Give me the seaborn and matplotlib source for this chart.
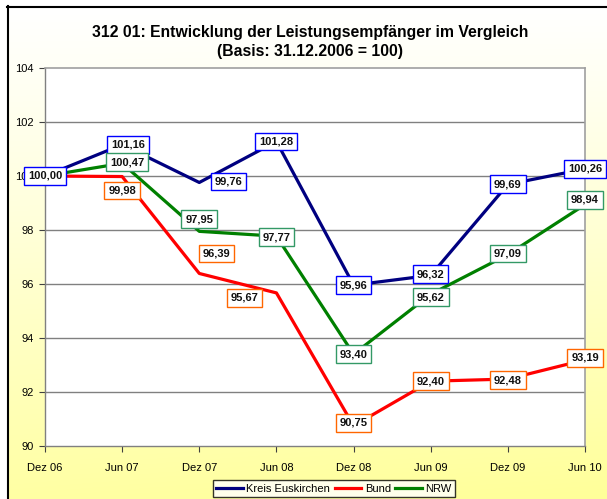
import numpy as np
import pandas as pd
import matplotlib
matplotlib.use("Agg")
import matplotlib.pyplot as plt
import seaborn as sns

# ---------------- data ----------------
categories = ["Dez 06", "Jun 07", "Dez 07", "Jun 08", "Dez 08", "Jun 09", "Dez 09", "Jun 10"]
kreis = [100.00, 101.16, 99.76, 101.28, 95.96, 96.32, 99.69, 100.26]
bund = [100.00, 99.98, 96.39, 95.67, 90.75, 92.40, 92.48, 93.19]
nrw = [100.00, 100.47, 97.95, 97.77, 93.40, 95.62, 97.09, 98.94]
series_names = ["Kreis Euskirchen", "Bund", "NRW"]
y_ticks = [90, 92, 94, 96, 98, 100, 102, 104]
title = "312 01: Entwicklung der Leistungsempfänger im Vergleich\n(Basis: 31.12.2006 = 100)"

# ---------------- styles ----------------
line_colors = {"Kreis Euskirchen": "#000080", "Bund": "#FF0000", "NRW": "#008000"}
box_colors = {"Kreis Euskirchen": "#0000FF", "Bund": "#FF6600", "NRW": "#339966"}
# label offsets in pixels (dx right, dy down) relative to the point; None = no label
label_offsets = {
    "Kreis Euskirchen": [(0, 0), (6, 0), (29, -1), (0, 0), (0, 0), (0, -1), (0, 0), (0, 0)],
    "Bund": [None, (0, 14), (17, -20), (-32, 5), (0, -3), (0, 0), (0, 1), (0, -2)],
    "NRW": [None, (5, -1), (0, -12), (0, 1), (0, 0), (0, 3), (0, -1), (0, -5)],
}

plt.rcParams["font.family"] = ["Liberation Sans", "DejaVu Sans"]

rows = []
for name, vals in zip(series_names, [kreis, bund, nrw]):
    for i, (c, v) in enumerate(zip(categories, vals)):
        rows.append({"pos": i, "Monat": c, "Wert": v, "Serie": name})
df = pd.DataFrame(rows)

W, H = 607, 499
fig = plt.figure(figsize=(W / 100, H / 100), dpi=100)

# background gradient panel
bg = fig.add_axes([0, 0, 1, 1], zorder=-10)
bg.set_xlim(0, W)
bg.set_ylim(H, 0)
bg.axis("off")
t = np.linspace(0, 1, 256)[:, None]
xx = np.linspace(0, 1, 64)[None, :]
tt = np.clip(0.9 * t ** 1.1 + 0.1 * xx * t, 0, 1)
white = np.array([1.0, 1.0, 1.0])
yellow = np.array([1.0, 1.0, 0.6])
img = white[None, None, :] * (1 - tt[..., None]) + yellow[None, None, :] * tt[..., None]
bg.imshow(img, extent=[7, W, H, 6], aspect="auto", zorder=0)
bg.plot([7, W], [6.5, 6.5], color="black", lw=1.5, zorder=1)
bg.plot([7.5, 7.5], [6, H], color="black", lw=1.5, zorder=1)

ax = fig.add_axes([45 / W, 1 - 446 / H, (585 - 45) / W, (446 - 68) / H])
ax.set_facecolor("white")

sns.lineplot(data=df, x="pos", y="Wert", hue="Serie", palette=line_colors,
             hue_order=series_names, linewidth=2.3, ax=ax, legend=True, zorder=3)

ax.set_xlim(0, len(categories) - 1)
ax.set_ylim(90, 104)
ax.set_yticks(y_ticks)
ax.set_yticklabels([str(v) for v in y_ticks], fontsize=8)
ax.set_xticks(range(len(categories)))
ax.set_xticklabels(categories, fontsize=8)
ax.tick_params(axis="both", length=4, width=0.8, color="#404040", pad=4)
ax.tick_params(axis="x", pad=8)
ax.set_xlabel("")
ax.set_ylabel("")
for yv in y_ticks[1:-1]:
    ax.axhline(yv, color="#808080", lw=1.0, zorder=1)
for side in ["top", "right"]:
    ax.spines[side].set_color("#A0A0A0")
    ax.spines[side].set_linewidth(1.2)
for side in ["left", "bottom"]:
    ax.spines[side].set_color("#808080")
    ax.spines[side].set_linewidth(1.0)

# value labels
for name, vals in zip(series_names, [kreis, bund, nrw]):
    for i, v in enumerate(vals):
        off = label_offsets[name][i]
        if off is None:
            continue
        ax.annotate(f"{v:.2f}".replace(".", ","), xy=(i, v), xytext=(off[0], -off[1]),
                    textcoords="offset pixels", ha="center", va="center",
                    fontsize=8, fontweight="bold", color="#111111", zorder=6,
                    annotation_clip=False,
                    bbox=dict(boxstyle="square,pad=0.35", fc="white",
                              ec=box_colors[name], lw=1.0))

# title
fig.text(310 / W, 1 - 42 / H, title, ha="center", va="center", fontsize=11.3,
         fontweight="bold", linespacing=1.4)

# legend
handles, labels = ax.get_legend_handles_labels()
ax.get_legend().remove()
leg = fig.legend(handles, labels, loc="lower center", bbox_to_anchor=(334 / W, 2 / H),
                 ncol=3, fontsize=8, frameon=True, fancybox=False, edgecolor="black",
                 handlelength=2.4, handletextpad=0.3, columnspacing=0.4,
                 borderpad=0.3, borderaxespad=0)
leg.get_frame().set_linewidth(1.0)
leg.get_frame().set_facecolor("white")

fig.savefig("out.png", dpi=100)
